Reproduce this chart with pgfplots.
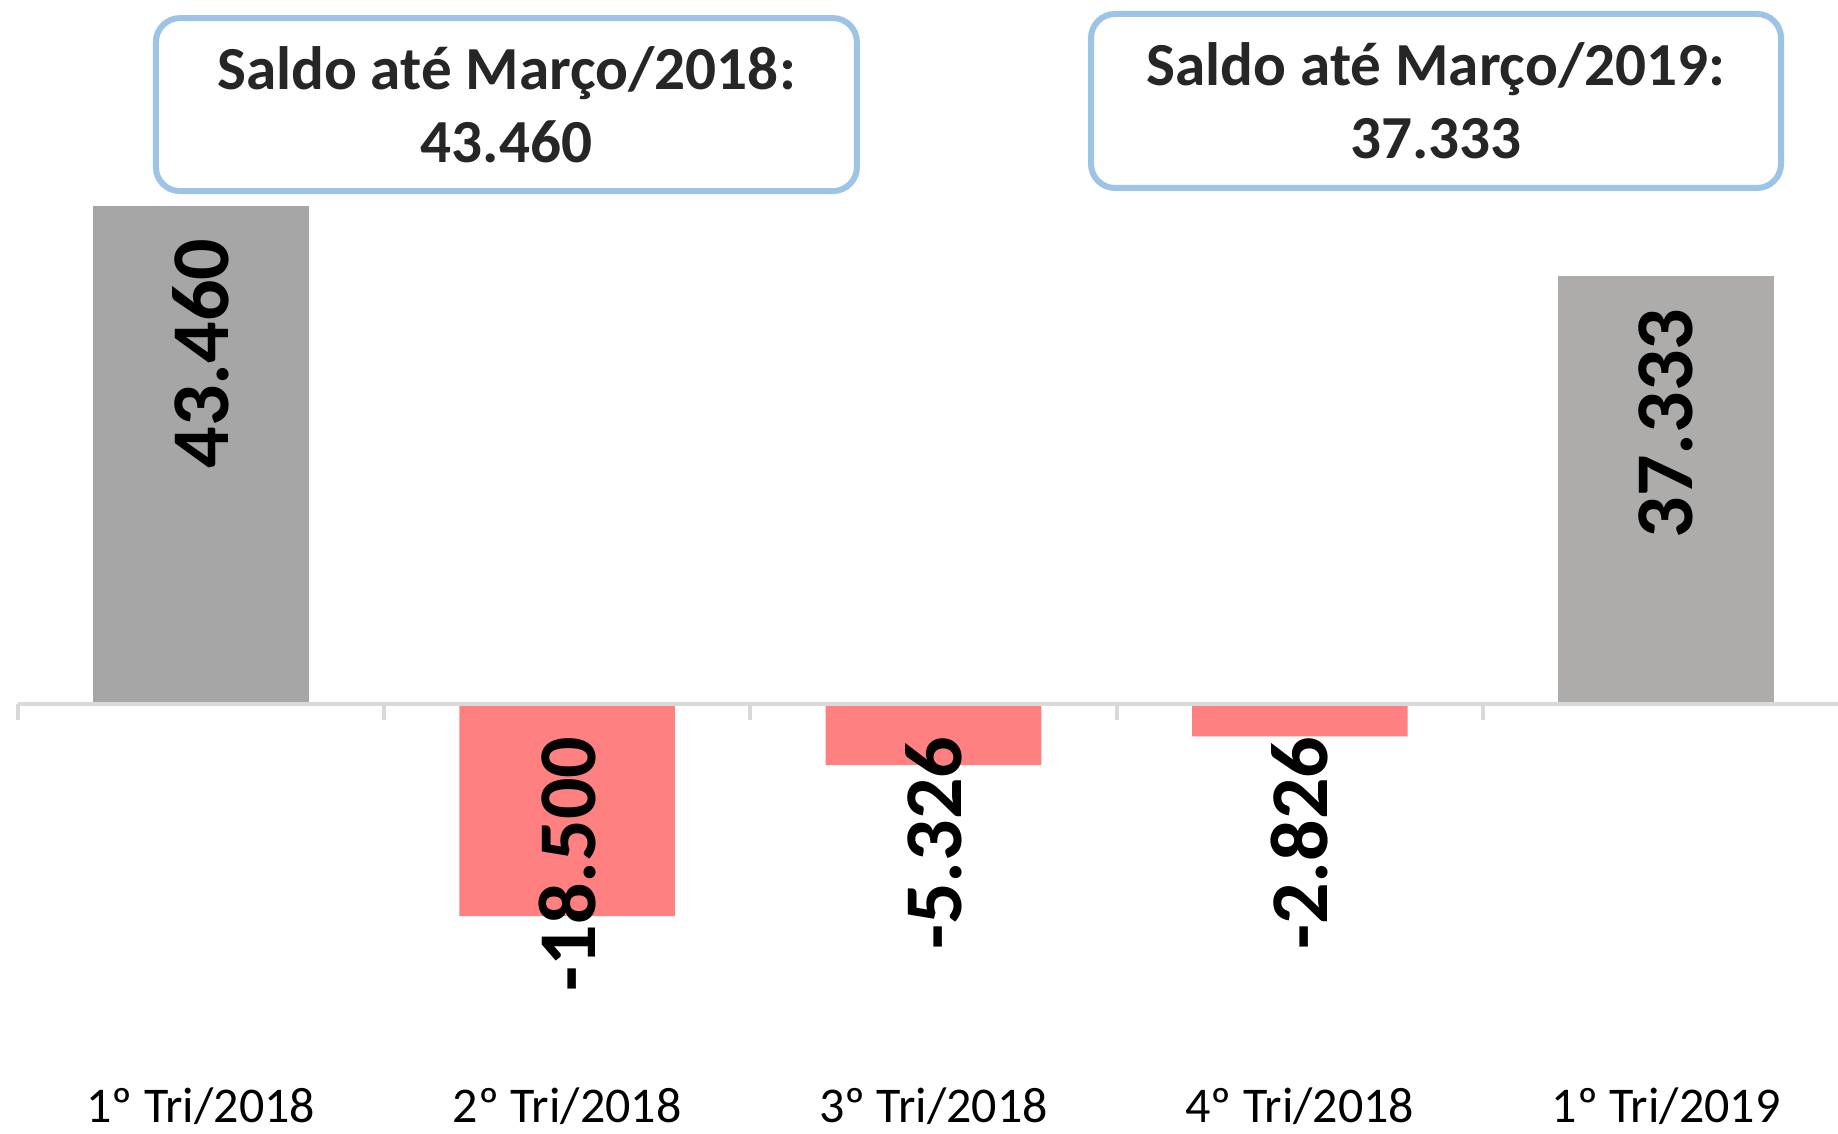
\documentclass[border=0pt]{standalone}
\usepackage{fontspec}
\setmainfont{Carlito}
\usepackage{pgfplots}
\pgfplotsset{compat=1.18}
\definecolor{grayA}{HTML}{A6A6A6}
\definecolor{grayB}{HTML}{AEABAB}
\definecolor{redbar}{HTML}{FF8080}
\definecolor{boxblue}{HTML}{9DC3E6}
\definecolor{axisgray}{HTML}{D9D9D9}
\definecolor{boxtext}{HTML}{262626}
\begin{document}
\begin{tikzpicture}
\begin{axis}[
  at={(0,0)}, anchor=south west,
  scale only axis, width=459.5pt, height=283.25pt,
  xmin=-0.548, xmax=4.469, ymin=-37425, ymax=61406,
  axis line style={draw=none},
  xtick={0,1,2,3,4},
  xticklabels={1º Tri/2018, 2º Tri/2018, 3º Tri/2018, 4º Tri/2018, 1º Tri/2019},
  xticklabel style={font=\fontsize{12.5}{15}\selectfont, anchor=base, yshift=2.7pt, text=black},
  xtick style={draw=none},
  ytick=\empty,
  clip=false,
  every node near coord/.append style={yshift=-8pt, rotate=90, anchor=east, inner sep=0pt, font=\fontsize{20.5}{24}\selectfont\bfseries, text=black},
]
\addplot[ybar, bar width=53.9pt, fill=grayA, draw=none] coordinates {(0,43460)};
\addplot[ybar, bar width=53.9pt, fill=redbar, draw=none] coordinates {(1,-18500) (2,-5326) (3,-2826)};
\addplot[ybar, bar width=53.9pt, fill=grayB, draw=none] coordinates {(4,37333)};
\addplot[draw=none, mark=none, nodes near coords, point meta=explicit symbolic] table[meta=label] {
x y label
0 43460 43.460
1 0 -18.500
2 0 -5.326
3 0 -2.826
4 37333 37.333
};
\draw[axisgray, line width=1pt] (axis cs:-0.5,0) -- (axis cs:4.469,0);
\draw[axisgray, line width=1pt] (axis cs:-0.5,0) -- ++(0pt,-4pt);
\draw[axisgray, line width=1pt] (axis cs:0.5,0) -- ++(0pt,-4pt);
\draw[axisgray, line width=1pt] (axis cs:1.5,0) -- ++(0pt,-4pt);
\draw[axisgray, line width=1pt] (axis cs:2.5,0) -- ++(0pt,-4pt);
\draw[axisgray, line width=1pt] (axis cs:3.5,0) -- ++(0pt,-4pt);
\end{axis}
\node[draw=boxblue, line width=1.5pt, rounded corners=6pt, fill=white,
  minimum width=175.25pt, minimum height=43.25pt, inner sep=0pt, align=center,
  font=\fontsize{15.3}{18.3}\selectfont\bfseries, text=boxtext]
  at (126.6pt,257.1pt) {Saldo até Março/2018:\\43.460};
\node[draw=boxblue, line width=1.5pt, rounded corners=6pt, fill=white,
  minimum width=172.5pt, minimum height=43.5pt, inner sep=0pt, align=center,
  font=\fontsize{15.3}{18.3}\selectfont\bfseries, text=boxtext]
  at (359pt,258pt) {Saldo até Março/2019:\\37.333};
\pgfresetboundingbox
\path (0,0) rectangle (459.5pt,283.25pt);
\end{tikzpicture}
\end{document}
